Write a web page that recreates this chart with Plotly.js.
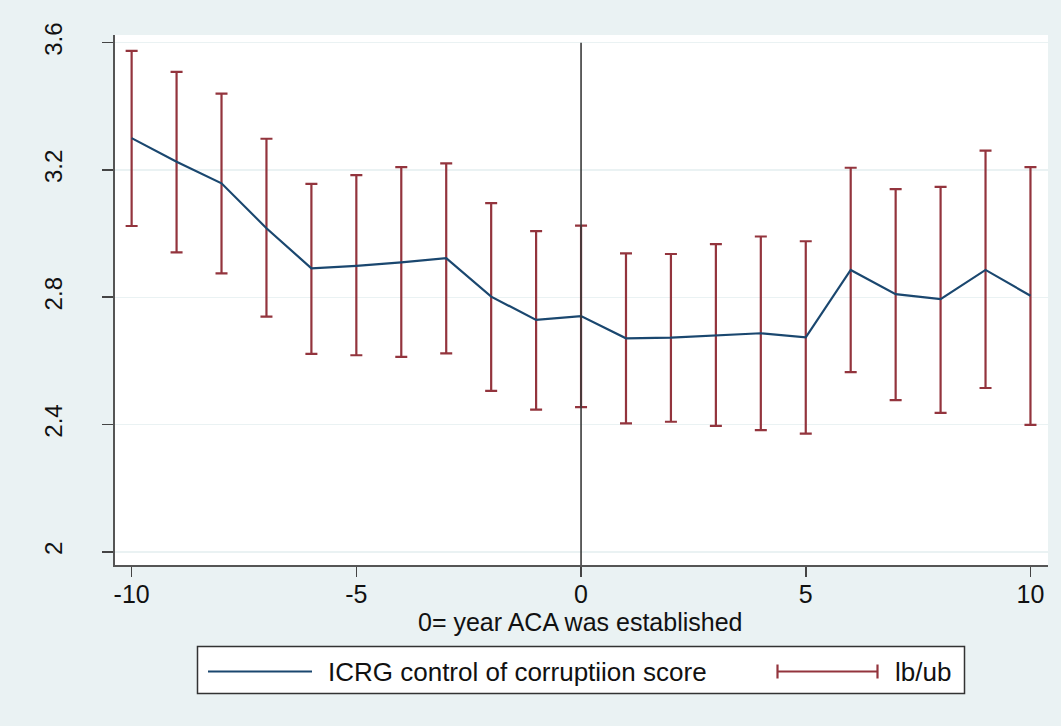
<!DOCTYPE html>
<html>
<head>
<meta charset="utf-8">
<script src="https://cdn.plot.ly/plotly-3.0.1.min.js"></script>
<style>html,body{margin:0;padding:0;background:#EAF2F3;}</style>
</head>
<body>
<div id="chart" style="width:1061px;height:726px;"></div>
<script>
// ---- data ----
const years = [-10,-9,-8,-7,-6,-5,-4,-3,-2,-1,0,1,2,3,4,5,6,7,8,9,10];
const score = [3.300,3.226,3.158,3.017,2.891,2.899,2.910,2.923,2.802,2.729,2.741,
               2.671,2.673,2.681,2.687,2.674,2.886,2.810,2.794,2.886,2.805];
const upper = [3.574,3.508,3.440,3.298,3.156,3.184,3.209,3.221,3.096,3.008,3.025,
               2.938,2.936,2.967,2.991,2.976,3.207,3.140,3.147,3.261,3.209];
const lower = [3.024,2.941,2.875,2.739,2.622,2.618,2.613,2.624,2.506,2.447,2.455,
               2.404,2.409,2.396,2.383,2.372,2.565,2.477,2.437,2.515,2.399];
const xTicks = [-10,-5,0,5,10];
const xTickText = ['-10','-5','0','5','10'];
const yTicks = [2,2.4,2.8,3.2,3.6];
const yTickText = ['2','2.4','2.8','3.2','3.6'];
const lineName = 'ICRG control of corruptiion score';
const barName = 'lb/ub';
const xTitle = '0= year ACA was established';

// ---- layout geometry ----
const W = 1061, H = 726;
const M = {l:115, r:13, t:35, b:161};
const PW = W - M.l - M.r, PH = H - M.t - M.b;
const px = x => (x - M.l) / PW;
const py = y => (M.t + PH - y) / PH;
const X_RANGE = [-10.37, 10.39];
const Y_RANGE = [1.959, 3.624];

const navy = '#1A476F';
const maroon = '#93343D';
const FONT = 'Liberation Sans, Arial, sans-serif';

const errPlus = upper.map((u,i) => u - score[i]);
const errMinus = lower.map((l,i) => score[i] - l);

const traces = [
  {
    x: years, y: score, type: 'scatter', mode: 'markers',
    marker: {size: 1, opacity: 0},
    error_y: {type: 'data', symmetric: false, array: errPlus, arrayminus: errMinus,
              color: maroon, thickness: 2.2, width: 6},
    name: barName, showlegend: false, hoverinfo: 'skip'
  },
  {
    x: years, y: score, type: 'scatter', mode: 'lines',
    line: {color: navy, width: 2.2},
    name: lineName, showlegend: false
  }
];

const legY = 671.5;
const shapes = [
  {type:'line', xref:'x', yref:'y', x0:0, x1:0, y0:Y_RANGE[0], y1:3.6,
   line:{color:'#3a3a3a', width:1.6}},
  {type:'rect', xref:'paper', yref:'paper', x0:px(197.5), x1:px(964.5), y0:py(693.5), y1:py(646.5),
   fillcolor:'white', line:{color:'#333', width:1.5}},
  {type:'line', xref:'paper', yref:'paper', x0:px(208), x1:px(312), y0:py(legY), y1:py(legY),
   line:{color:navy, width:2.2}},
  {type:'line', xref:'paper', yref:'paper', x0:px(777), x1:px(878), y0:py(legY), y1:py(legY),
   line:{color:maroon, width:2.2}},
  {type:'line', xref:'paper', yref:'paper', x0:px(777.5), x1:px(777.5), y0:py(legY-7), y1:py(legY+7),
   line:{color:maroon, width:2.2}},
  {type:'line', xref:'paper', yref:'paper', x0:px(877.5), x1:px(877.5), y0:py(legY-7), y1:py(legY+7),
   line:{color:maroon, width:2.2}}
];

const annotations = [
  {xref:'paper', yref:'paper', x:px(326), y:py(legY), xanchor:'left', yanchor:'middle',
   text: lineName, showarrow:false, font:{family:FONT, size:26, color:'#111'}},
  {xref:'paper', yref:'paper', x:px(893), y:py(legY), xanchor:'left', yanchor:'middle',
   text: barName, showarrow:false, font:{family:FONT, size:26, color:'#111'}},
  {xref:'paper', yref:'paper', x:px(580), y:py(622), xanchor:'center', yanchor:'middle',
   text: xTitle, showarrow:false, font:{family:FONT, size:25, color:'#111'}}
];

const layout = {
  width: W, height: H,
  margin: M,
  paper_bgcolor: '#EAF2F3',
  plot_bgcolor: '#FFFFFF',
  font: {family: FONT, color: '#111'},
  showlegend: false,
  xaxis: {
    range: X_RANGE, tickmode: 'array', tickvals: xTicks, ticktext: xTickText,
    ticks: 'outside', ticklen: 10, tickwidth: 1.6, tickcolor: '#444',
    showline: true, linecolor: '#555', linewidth: 2,
    showgrid: false, zeroline: false,
    tickfont: {size: 25, family: FONT, color: '#111'},
    ticklabelstandoff: -4,
    automargin: false
  },
  yaxis: {
    range: Y_RANGE, tickmode: 'array', tickvals: yTicks, ticktext: yTickText,
    tickangle: -90,
    ticks: 'outside', ticklen: 11, tickwidth: 1.6, tickcolor: '#444',
    showline: true, linecolor: '#555', linewidth: 2,
    showgrid: true, gridcolor: '#EAF2F3', gridwidth: 1.5, zeroline: false,
    tickfont: {size: 24, family: FONT, color: '#111'},
    ticklabelstandoff: 30,
    automargin: false
  },
  shapes: shapes,
  annotations: annotations
};

Plotly.newPlot('chart', traces, layout, {displayModeBar: false, staticPlot: true});
</script>
</body>
</html>
